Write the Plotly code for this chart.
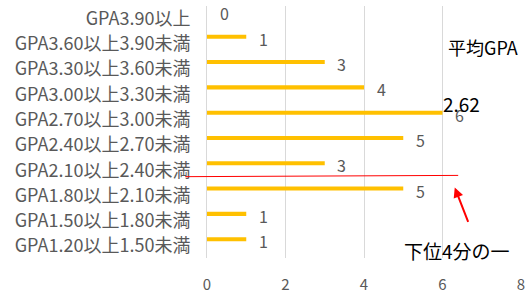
import plotly.graph_objects as go

categories = ["GPA1.20以上1.50未満", "GPA1.50以上1.80未満", "GPA1.80以上2.10未満",
              "GPA2.10以上2.40未満", "GPA2.40以上2.70未満", "GPA2.70以上3.00未満",
              "GPA3.00以上3.30未満", "GPA3.30以上3.60未満", "GPA3.60以上3.90未満",
              "GPA3.90以上"]
counts = [1, 1, 5, 3, 5, 6, 4, 3, 1, 0]
x_ticks = [0, 2, 4, 6, 8]
mean_gpa = "2.62"

FONT = "Noto Sans CJK JP"
GRAY = "#595959"

fig = go.Figure()
fig.add_trace(go.Bar(
    x=counts, y=categories, orientation="h",
    marker=dict(color="#FFC000", line=dict(width=0)),
    width=0.16, hoverinfo="skip",
))

for c, v in zip(categories, counts):
    fig.add_annotation(x=v, y=c, xref="x", yref="y", text=str(v), showarrow=False,
                       xanchor="center", yanchor="middle", xshift=17, yshift=-2,
                       font=dict(family=FONT, size=16, color=GRAY))

# quartile line
fig.add_shape(type="line", xref="paper", yref="y", x0=-0.069, x1=0.80, y0=2.47, y1=2.52,
              line=dict(color="#FF0000", width=1))

# arrow
fig.add_annotation(x=0.789, y=0.280, xref="paper", yref="paper", text="", showarrow=True,
                   ax=14, ay=36, arrowhead=2, arrowsize=1, arrowwidth=2, arrowcolor="#FF0000")
fig.add_annotation(x=0.796, y=0.031, xref="paper", yref="paper", text="下位4分の一",
                   showarrow=False, xanchor="center", yanchor="middle",
                   font=dict(family=FONT, size=19, color="black"))
fig.add_annotation(x=0.88, y=0.839, xref="paper", yref="paper", text="平均GPA",
                   showarrow=False, xanchor="center", yanchor="middle",
                   font=dict(family=FONT, size=18, color="black"))
fig.add_annotation(x=0.811, y=0.614, xref="paper", yref="paper", text=mean_gpa,
                   showarrow=False, xanchor="center", yanchor="middle",
                   font=dict(family=FONT, size=19, color="black"))

fig.update_layout(
    width=529, height=300,
    margin=dict(l=207, r=4, t=4, b=42),
    paper_bgcolor="white", plot_bgcolor="white",
    showlegend=False,
    font=dict(family=FONT, color=GRAY),
    xaxis=dict(range=[0, 8], tickvals=x_ticks, showgrid=True, gridcolor="#D9D9D9",
               gridwidth=1, zeroline=False, showline=False, ticks="",
               tickfont=dict(size=15, color=GRAY), ticklabelstandoff=16,
               ticklabeloverflow="allow"),
    yaxis=dict(categoryorder="array", categoryarray=categories, showgrid=False,
               showline=True, linecolor="#D9D9D9", linewidth=1, ticks="",
               tickfont=dict(size=18, color=GRAY), ticklabelstandoff=12,
               ticklabelshift=7, range=[-0.745, 9.216]),
)

fig.write_html("out.html", config={"displayModeBar": False},
               post_script="document.body.style.margin='0';")
